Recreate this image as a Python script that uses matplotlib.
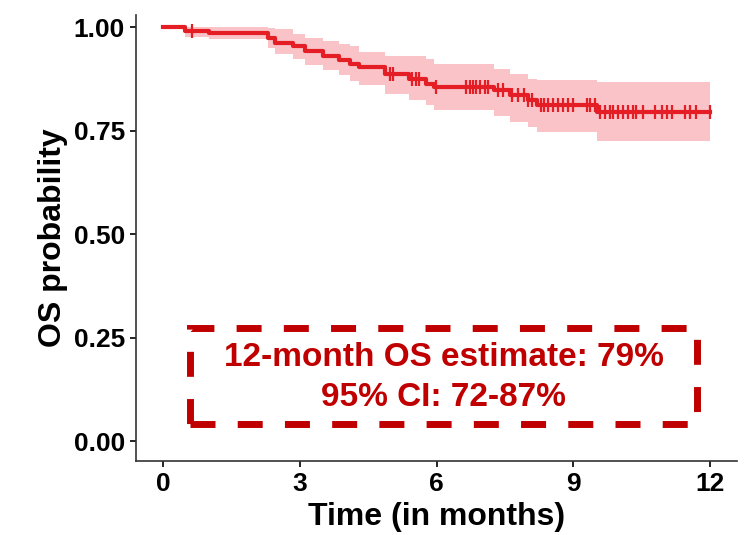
import numpy as np
import matplotlib
matplotlib.use("Agg")
import matplotlib.pyplot as plt
from matplotlib.patches import Rectangle

plt.rcParams['font.family'] = ['Liberation Sans', 'DejaVu Sans']
plt.rcParams['font.weight'] = 'bold'

# Kaplan-Meier steps (time in months, survival, 95% CI)
step_times = [0, 0.48, 1.0, 2.3, 2.45, 2.85, 3.1, 3.5, 3.85, 4.1, 4.3, 4.87,
              5.4, 5.77, 5.95, 7.25, 7.6, 8.0, 8.2, 9.52]
surv = [1.0, 0.992, 0.986, 0.975, 0.963, 0.956, 0.944, 0.932, 0.922, 0.912,
        0.905, 0.888, 0.876, 0.864, 0.856, 0.848, 0.836, 0.824, 0.813, 0.795]
upper = [1.0, 1.0, 1.0, 0.998, 0.995, 0.985, 0.975, 0.967, 0.960, 0.955,
         0.940, 0.932, 0.932, 0.924, 0.912, 0.900, 0.888, 0.876, 0.872, 0.868]
lower = [1.0, 0.977, 0.972, 0.950, 0.936, 0.924, 0.908, 0.896, 0.884, 0.870,
         0.860, 0.840, 0.824, 0.812, 0.800, 0.787, 0.771, 0.759, 0.747, 0.725]
end_time = 12.0

# censored observations
censor_times = [0.63, 4.97, 5.05, 5.45, 5.55, 5.62, 5.98, 6.65, 6.72, 6.8,
                6.87, 6.95, 7.05, 7.12, 7.35, 7.45, 7.65, 7.78, 7.92, 8.0,
                8.1, 8.3, 8.36, 8.45, 8.56, 8.67, 8.78, 8.89, 9.0, 9.29,
                9.36, 9.47, 9.58, 9.69, 9.8, 9.87, 9.98, 10.09, 10.2, 10.3,
                10.38, 10.53, 10.79, 10.94, 11.05, 11.16, 11.45, 11.56,
                11.7, 12.0]

x_ticks = [0, 3, 6, 9, 12]
y_ticks = [0.0, 0.25, 0.5, 0.75, 1.0]

line_red = "#E41E24"
band_pink = "#F9C3C8"
text_red = "#C00000"

fig = plt.figure(figsize=(7.44, 5.35), dpi=100)
ax = fig.add_axes([0.183, 0.138, 0.808, 0.834])

t = np.array(step_times + [end_time])
s = np.array(surv + [surv[-1]])
lo = np.array(lower + [lower[-1]])
hi = np.array(upper + [upper[-1]])

ax.fill_between(t, lo, hi, step="post", color=band_pink, linewidth=0)
ax.step(t, s, where="post", color=line_red, linewidth=3.0)

# censor marks sit on the curve
idx = np.searchsorted(np.array(step_times), censor_times, side="right") - 1
cs = np.array(surv)[idx]
ax.plot(censor_times, cs, linestyle="none", marker="|", markersize=10,
        markeredgewidth=1.6, color=line_red)

# annotation box
box = Rectangle((0.59, 0.043), 11.12, 0.230, fill=False, edgecolor=text_red,
                linewidth=5, linestyle=(0, (3.6, 3.2)))
ax.add_patch(box)
ax.text(6.15, 0.203, "12-month OS estimate: 79%", ha="center", va="center",
        color=text_red, fontsize=24, fontweight="bold")
ax.text(6.15, 0.106, "95% CI: 72-87%", ha="center", va="center",
        color=text_red, fontsize=24, fontweight="bold")

ax.set_xlim(-0.6, 12.6)
ax.set_ylim(-0.048, 1.03)
ax.set_xticks(x_ticks)
ax.set_yticks(y_ticks)
ax.set_yticklabels(["%.2f" % v for v in y_ticks])

for side in ["top", "right"]:
    ax.spines[side].set_visible(False)
for side in ["left", "bottom"]:
    ax.spines[side].set_linewidth(1.2)
    ax.spines[side].set_color("#333333")

ax.tick_params(axis="both", length=4, width=1.2, labelsize=19, pad=4,
               colors="black")
for lab in ax.get_xticklabels() + ax.get_yticklabels():
    lab.set_fontweight("bold")

ax.set_xlabel("Time (in months)", fontsize=23, fontweight="bold", labelpad=4)
ax.set_ylabel("OS probability", fontsize=23, fontweight="bold", labelpad=4)

fig.savefig("out.png", dpi=100)
